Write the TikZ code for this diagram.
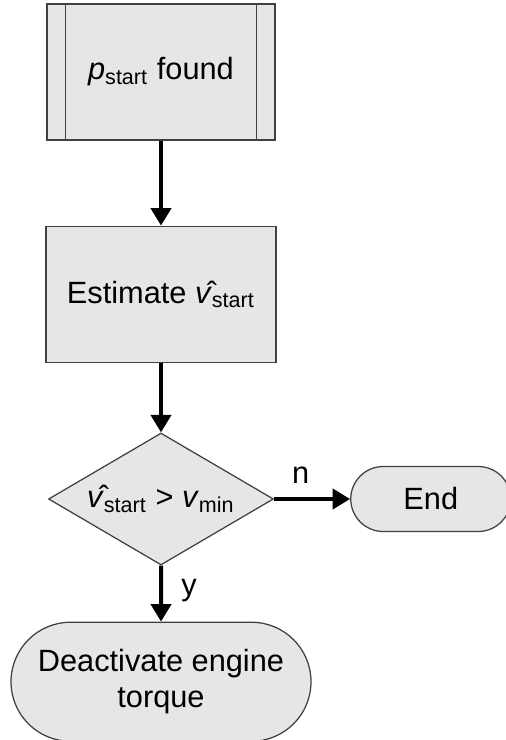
\documentclass[tikz,border=0pt]{standalone}
\usepackage{fontspec}
\setmainfont{Liberation Sans}
\usepackage{tikz}
\usetikzlibrary{arrows.meta,positioning,shapes.geometric,shapes.misc}
\definecolor{boxfill}{HTML}{E6E6E6}
\definecolor{boxline}{HTML}{404040}
\tikzstyle{block}=[draw=boxline,fill=boxfill,line width=0.5pt,inner sep=2pt,align=center]
\tikzstyle{process}=[block,rectangle,minimum width=92pt,minimum height=54.6pt]
\tikzstyle{decision}=[block,diamond,aspect=1.7,inner sep=0pt,minimum width=90pt,minimum height=52.8pt]
\tikzstyle{terminal}=[block,rounded rectangle,rounded rectangle arc length=180]
\tikzstyle{flow}=[draw,line width=1.6pt,-{Triangle[width=8pt,length=7pt]}]
\newcommand{\vhat}{\^{\textit{v}}}

\begin{document}
\begin{tikzpicture}[font=\fontsize{12.3}{14.5}\selectfont]
\useasboundingbox (-64.4pt,28.8pt) rectangle (138pt,-267.2pt);
\node [process,minimum width=91.2pt,minimum height=54.4pt] (found) at (0,0) {\textit{p}\textsubscript{start} found};
\draw [boxline,line width=0.5pt] ([xshift=7.6pt]found.north west) -- ([xshift=7.6pt]found.south west);
\draw [boxline,line width=0.5pt] ([xshift=-7.6pt]found.north east) -- ([xshift=-7.6pt]found.south east);
\node [process,below=34pt of found] (estimate) {Estimate \vhat\textsubscript{start}};
\node [decision,below=27.6pt of estimate] (check) {\vhat\textsubscript{start} > \textit{v}\textsubscript{min}};
\node [terminal,right=30.4pt of check,minimum width=68pt,minimum height=26pt] (end) {End};
\node [terminal,below=22.4pt of check,minimum width=124pt,minimum height=47.6pt] (deactivate) {Deactivate engine\\torque};

\draw [flow] (found) -- (estimate);
\draw [flow] (estimate) -- (check);
\draw [flow] (check) -- node [above,pos=0.35,yshift=2pt] (no) {n} (end);
\draw [flow] (check) -- node [right,pos=0.45,xshift=4pt] (yes) {y} (deactivate);
\end{tikzpicture}
\end{document}
